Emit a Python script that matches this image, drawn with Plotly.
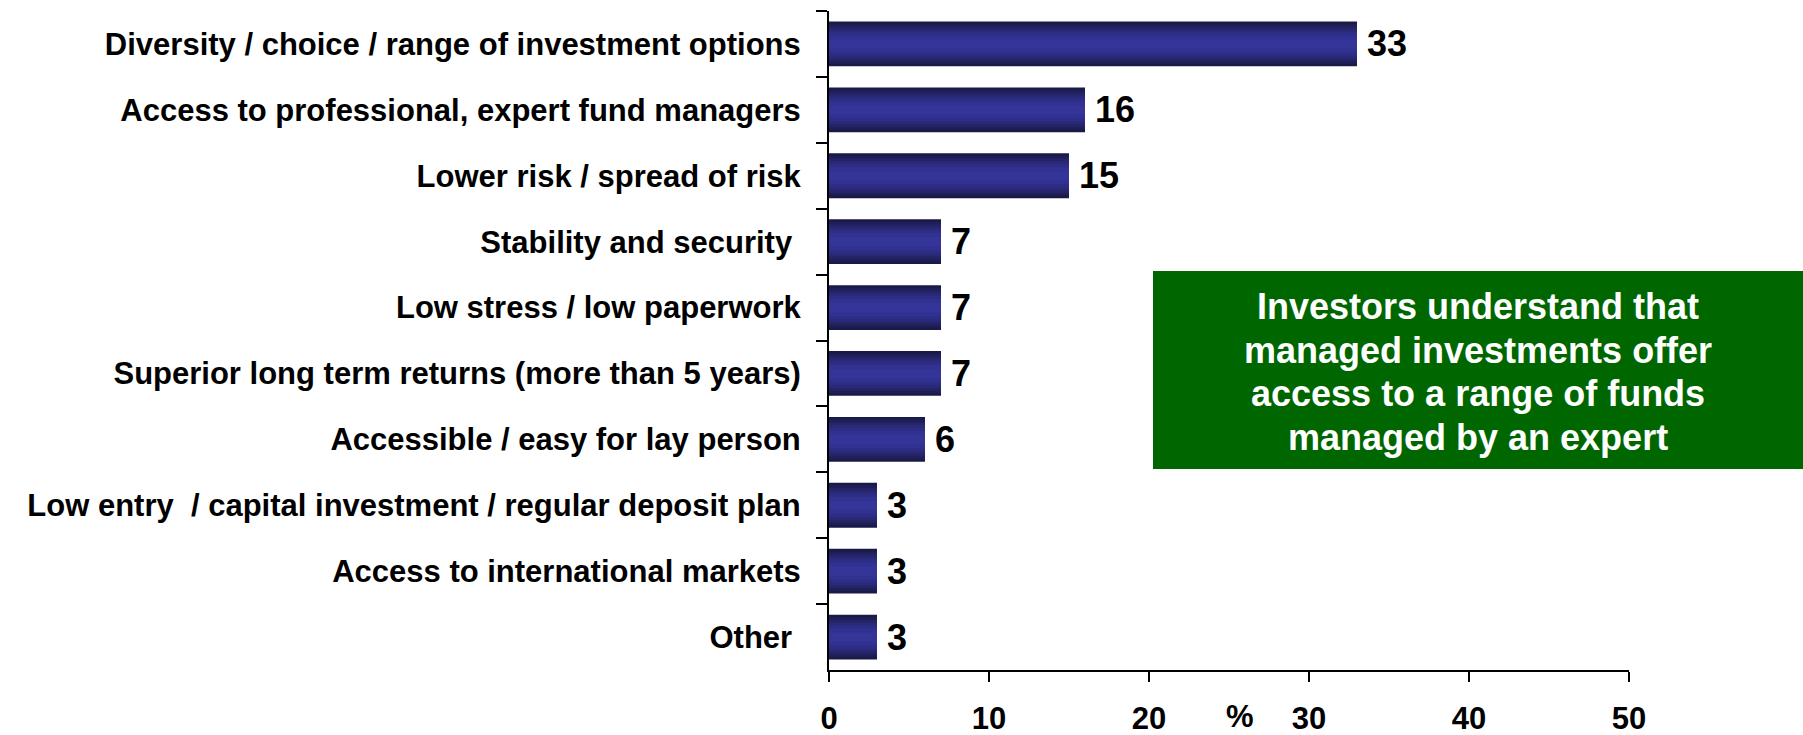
import plotly.graph_objects as go

# Survey responses: perceived benefits of managed investments (%)
categories = [
    "Diversity / choice / range of investment options",
    "Access to professional, expert fund managers",
    "Lower risk / spread of risk",
    "Stability and security\u00a0",
    "Low stress / low paperwork",
    "Superior long term returns (more than 5 years)",
    "Accessible / easy for lay person",
    "Low entry \u00a0/ capital investment / regular deposit plan",
    "Access to international markets",
    "Other\u00a0",
]
values = [33, 16, 15, 7, 7, 7, 6, 3, 3, 3]
x_ticks = [0, 10, 20, 30, 40, 50]
callout_lines = [
    "Investors understand that",
    "managed investments offer",
    "access to a range of funds",
    "managed by an expert",
]

FONT = "Arial, Liberation Sans, sans-serif"

# Page geometry (pixels)
W, H = 1803, 735
ML, MR, MT, MB = 829, 174, 11, 65
PW, PH = W - ML - MR, H - MT - MB


def px_to_paper_x(px):
    return (px - ML) / PW


def px_to_paper_y(py):
    return (H - MB - py) / PH


# Layered bars of shrinking thickness give a shaded (dark edge / light centre) look
shade_layers = [
    (0.68, "#1a1a48"),
    (0.60, "#1f1f57"),
    (0.52, "#242467"),
    (0.44, "#292977"),
    (0.36, "#2d2d85"),
    (0.26, "#313191"),
    (0.14, "#343499"),
]

fig = go.Figure()
for w, c in shade_layers:
    fig.add_trace(go.Bar(
        x=values, y=categories, orientation="h",
        width=w, marker=dict(color=c, line=dict(width=0)),
        hoverinfo="skip", showlegend=False,
    ))

# Value labels just past the bar ends
for cat, v in zip(categories, values):
    fig.add_annotation(
        x=v, y=cat, xref="x", yref="y",
        text=str(v), showarrow=False,
        xanchor="left", yanchor="middle", xshift=8,
        font=dict(family=FONT, size=36, color="#000000", weight="bold"),
    )

fig.update_layout(
    barmode="overlay",
    width=W, height=H,
    margin=dict(l=ML, r=MR, t=MT, b=MB, autoexpand=False),
    paper_bgcolor="white", plot_bgcolor="white",
    font=dict(family=FONT, color="#000000"),
    xaxis=dict(
        range=[0, 50], tickvals=x_ticks, ticktext=[str(t) for t in x_ticks],
        showgrid=False, zeroline=False, automargin=False,
        showline=True, linecolor="#000000", linewidth=2,
        ticks="outside", ticklen=10, tickwidth=2, tickcolor="#000000",
        tickfont=dict(family=FONT, size=31, weight="bold"),
        ticklabelstandoff=10,
        fixedrange=True,
    ),
    yaxis=dict(
        autorange="reversed", type="category",
        showgrid=False, zeroline=False, automargin=False,
        showline=True, linecolor="#000000", linewidth=2,
        ticks="outside", tickson="boundaries", ticklen=11, tickwidth=1.5,
        tickcolor="#000000",
        tickfont=dict(family=FONT, size=31, weight="bold"),
        ticklabelstandoff=20,
        fixedrange=True,
    ),
)

# Short stub of the x-axis line to the left of zero
fig.add_shape(
    type="line", xref="x", yref="paper", xsizemode="pixel", xanchor=0,
    x0=-11, x1=0, y0=0, y1=0, line=dict(color="#000000", width=2),
)

# Axis unit label between 20 and 30
fig.add_annotation(
    x=25.7, xref="x", y=px_to_paper_y(716), yref="paper",
    xanchor="center", yanchor="middle", borderpad=0,
    text="%", showarrow=False,
    font=dict(family=FONT, size=31, color="#000000", weight="bold"),
)

# Green callout box
fig.add_shape(
    type="rect", xref="paper", yref="paper",
    x0=px_to_paper_x(1153), x1=px_to_paper_x(W),
    y0=px_to_paper_y(469), y1=px_to_paper_y(271),
    fillcolor="#006600", line=dict(width=0), layer="below",
)
line_top, line_step = 307, 43.4
for i, line in enumerate(callout_lines):
    fig.add_annotation(
        x=px_to_paper_x(1478), xref="paper",
        y=px_to_paper_y(line_top + i * line_step), yref="paper",
        xanchor="center", yanchor="middle",
        text=line, showarrow=False,
        font=dict(family=FONT, size=36, color="#ffffff", weight="bold"),
    )

fig.write_html("out.html")
